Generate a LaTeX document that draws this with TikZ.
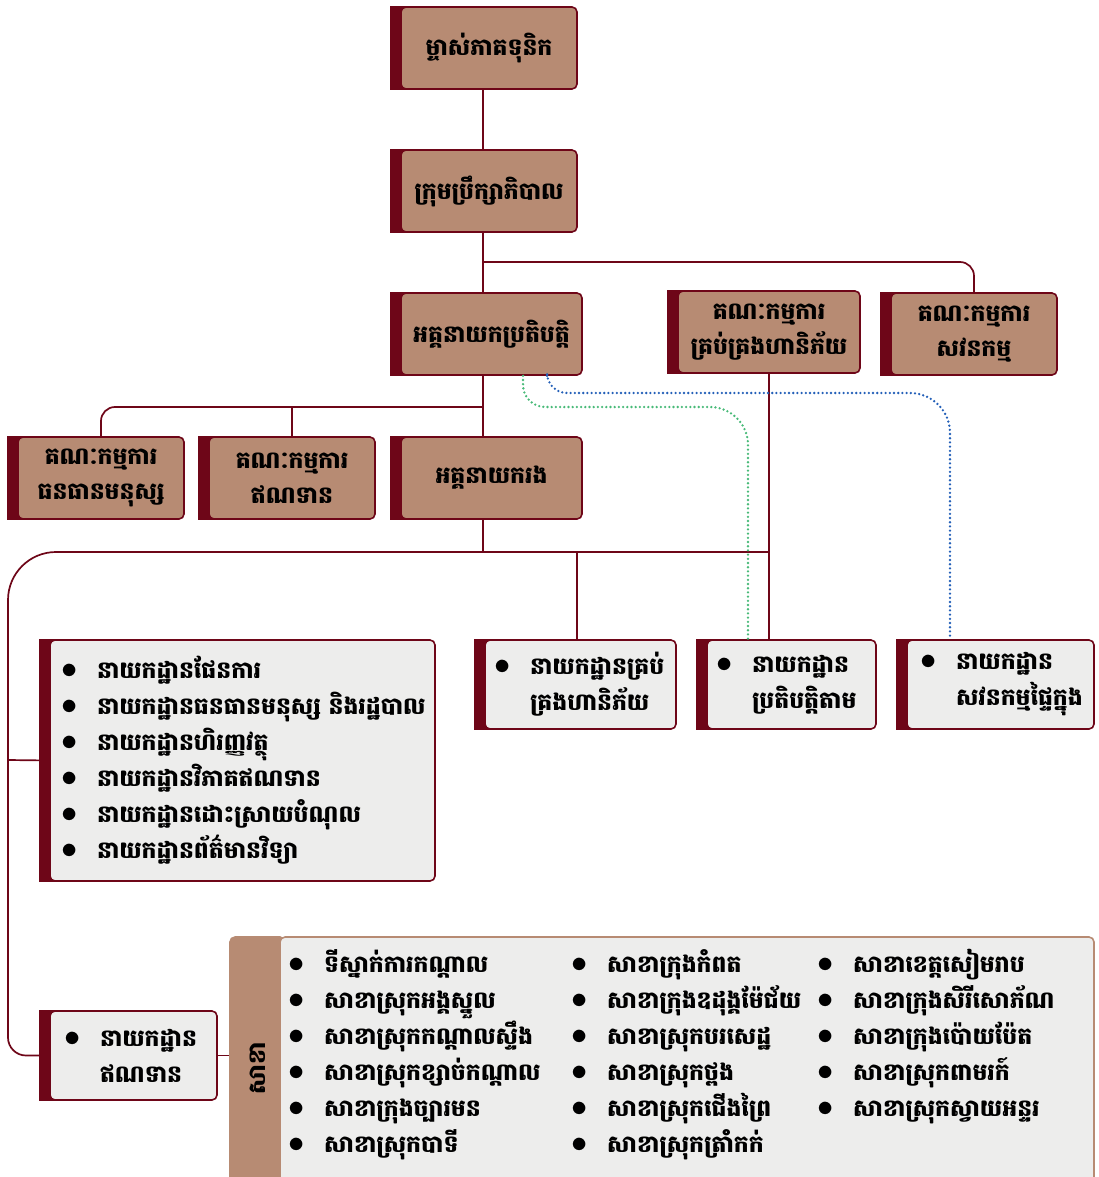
\documentclass[tikz,border=0pt]{standalone}
\usepackage{fontspec}
\newfontfamily\khmer[Script=Khmer]{Battambang}
\usetikzlibrary{backgrounds}

\definecolor{brandred}{RGB}{110,6,24}
\definecolor{clay}{RGB}{183,139,115}
\definecolor{paper}{RGB}{237,237,236}
\definecolor{riskgreen}{RGB}{72,186,120}
\definecolor{auditblue}{RGB}{36,96,184}

\newcommand\blt{\makebox[36pt][l]{\scalebox{1.3}{$\bullet$}}}
\newcommand\ind{\hspace*{36pt}}

\begin{document}
\begin{tikzpicture}[x=1pt,y=-1pt,
    box/.style={draw=brandred, fill=clay, line width=1.6pt, rounded corners=5pt, inner sep=0pt,
        minimum height=82pt, align=center, font=\khmer\bfseries\fontsize{23.5}{35}\selectfont},
    listbox/.style={draw=brandred, fill=paper, line width=1.6pt, rounded corners=5pt, inner sep=0pt,
        minimum height=89pt, align=left, font=\khmer\bfseries\fontsize{23.5}{36}\selectfont},
    branchcol/.style={anchor=west, inner sep=0pt, align=left, font=\khmer\bfseries\fontsize{23.5}{36}\selectfont},
    link/.style={draw=brandred, line width=1.7pt},
    dots/.style={line width=2.6pt, dash pattern=on 0pt off 4.2pt, line cap=round}]

    \useasboundingbox (0,0) rectangle (1099,1177);

    % board and management
    \node[box, minimum width=176pt] (owner) at (489,48) {ម្ចាស់ភាគទុនិក};
    \node[box, minimum width=176pt] (board) at (489,191) {ក្រុមប្រឹក្សាភិបាល};
    \node[box, minimum width=181pt] (ceo) at (491.5,334) {អគ្គនាយកប្រតិបត្តិ};
    \node[box, minimum width=182pt] (riskcom) at (769,332) {គណៈកម្មការ\\គ្រប់គ្រងហានិភ័យ};
    \node[box, minimum width=166pt] (auditcom) at (974,334) {គណៈកម្មការ\\សវនកម្ម};
    \node[box, minimum width=166pt] (hrcom) at (101,478) {គណៈកម្មការ\\ធនធានមនុស្ស};
    \node[box, minimum width=166pt] (creditcom) at (292,478) {គណៈកម្មការ\\ឥណទាន};
    \node[box, minimum width=181pt] (deputy) at (491.5,478) {អគ្គនាយករង};

    % departments
    \node[listbox, minimum width=385pt, minimum height=241pt, text width=363pt] (plans) at (242.5,760.5)
        {\blt នាយកដ្ឋានផែនការ\\
         \blt \mbox{នាយកដ្ឋានធនធានមនុស្ស និងរដ្ឋបាល}\\
         \blt នាយកដ្ឋានហិរញ្ញវត្ថុ\\
         \blt នាយកដ្ឋានវិភាគឥណទាន\\
         \blt នាយកដ្ឋានដោះស្រាយបំណុល\\
         \blt នាយកដ្ឋានព័ត៌មានវិទ្យា};
    \node[listbox, minimum width=191pt, text width=173pt] (riskdept) at (580.5,684.5)
        {\blt នាយកដ្ឋានគ្រប់\\\ind គ្រងហានិភ័យ};
    \node[listbox, minimum width=169pt, text width=151pt] (compliance) at (791.5,684.5)
        {\blt នាយកដ្ឋាន\\\ind ប្រតិបត្តិតាម};
    \node[listbox, minimum width=187pt, text width=161pt] (intaudit) at (1000.5,684.5)
        {\blt នាយកដ្ឋាន\\\ind សវនកម្មផ្ទៃក្នុង};
    \node[listbox, minimum width=167pt, text width=139pt] (creditdept) at (133.5,1055.5)
        {\blt នាយកដ្ឋាន\\\ind ឥណទាន};

    % branches
    \node[draw=clay, fill=clay, line width=1.6pt, rounded corners=5pt, minimum width=55pt, minimum height=263pt,
        inner sep=0pt, font=\khmer\bfseries\fontsize{23.5}{35}\selectfont] (branchtag) at (257.5,1068.5) {\rotatebox{90}{សាខា}};
    \node[draw=clay, fill=paper, line width=1.6pt, rounded corners=5pt, minimum width=814pt, minimum height=263pt] (branches) at (687,1068.5) {};
    \node[branchcol] (colA) at (288,1055)
        {\blt ទីស្នាក់ការកណ្តាល\\
         \blt សាខាស្រុកអង្គស្នួល\\
         \blt សាខាស្រុកកណ្តាលស្ទឹង\\
         \blt សាខាស្រុកខ្សាច់កណ្តាល\\
         \blt សាខាក្រុងច្បារមន\\
         \blt សាខាស្រុកបាទី};
    \node[branchcol] (colB) at (571,1055)
        {\blt សាខាក្រុងកំពត\\
         \blt សាខាក្រុងឧដុង្គម៉ែជ័យ\\
         \blt សាខាស្រុកបរសេដ្ឋ\\
         \blt សាខាស្រុកថ្ពង\\
         \blt សាខាស្រុកជើងព្រៃ\\
         \blt សាខាស្រុកត្រាំកក់};
    \node[branchcol] (colC) at (817,1037)
        {\blt សាខាខេត្តសៀមរាប\\
         \blt សាខាក្រុងសិរីសោភ័ណ\\
         \blt សាខាក្រុងប៉ោយប៉ែត\\
         \blt សាខាស្រុកពាមរក៍\\
         \blt សាខាស្រុកស្វាយអន្ទរ};

    % red side bands
    \begin{scope}[on background layer]
        \foreach \n in {owner,board,ceo,riskcom,auditcom,hrcom,creditcom,deputy,plans,riskdept,compliance,intaudit,creditdept}
            \fill[brandred] ([xshift=-10pt]\n.north west) rectangle ([xshift=6pt]\n.south west);
    \end{scope}

    % connectors
    \coordinate (j1) at (483,262);
    \coordinate (j2) at (483,407);
    \coordinate (j3) at (483,552);
    \coordinate (trunk) at (8,760);

    \draw[link] ([xshift=-6pt]owner.south) -- ([xshift=-6pt]board.north);
    \draw[link] ([xshift=-6pt]board.south) -- (j1 |- ceo.north);
    \draw[link, rounded corners=14pt] (j1) -| (auditcom.north);
    \draw[link] (j2 |- ceo.south) -- (j2 |- deputy.north);
    \draw[link, rounded corners=14pt] (j2) -| (hrcom.north);
    \draw[link] (creditcom.north |- j2) -- (creditcom.north);
    \draw[link] (j3 |- deputy.south) -- (j3);
    \draw[link] (riskcom.south) -- (riskcom.south |- compliance.north);
    \draw[link] ([xshift=-3.5pt]riskdept.north |- j3) -- ([xshift=-3.5pt]riskdept.north);
    \draw[link, rounded corners=48pt] (riskcom.south |- j3) -| (trunk);
    \draw[link, rounded corners=18pt] (trunk) |- (creditdept.west);
    \draw[link] (trunk) -- (plans.west);
    \draw[link] (creditdept.east) -- (creditdept.east -| branchtag.west);

    \draw[dots, riskgreen, rounded corners=22pt] ([xshift=31.5pt]ceo.south) -- (523,407)
        [rounded corners=38pt] -- (748,407) -- ([xshift=-43.5pt]compliance.north);
    \draw[dots, auditblue, rounded corners=20pt] ([xshift=55.5pt]ceo.south) -- (547,393)
        [rounded corners=40pt] -- (950,393) -- ([xshift=-50.5pt]intaudit.north);
\end{tikzpicture}
\end{document}
